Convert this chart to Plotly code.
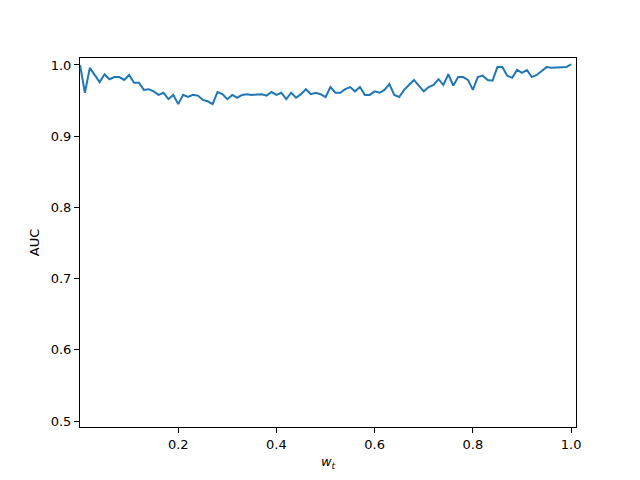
import numpy as np
import plotly.graph_objects as go

w_t = [round(i * 0.01, 2) for i in range(101)]
auc = [1.000, 0.961, 0.996, 0.986, 0.976, 0.987, 0.980, 0.983, 0.983, 0.979,
       0.986, 0.975, 0.975, 0.965, 0.966, 0.963, 0.958, 0.961, 0.952, 0.958,
       0.945, 0.958, 0.955, 0.958, 0.957, 0.951, 0.949, 0.945, 0.962, 0.959,
       0.952, 0.958, 0.954, 0.958, 0.959, 0.958, 0.958, 0.959, 0.957, 0.962,
       0.958, 0.961, 0.952, 0.961, 0.954, 0.959, 0.966, 0.959, 0.961, 0.959,
       0.955, 0.969, 0.961, 0.961, 0.966, 0.969, 0.963, 0.969, 0.958, 0.958,
       0.963, 0.961, 0.965, 0.973, 0.958, 0.955, 0.965, 0.972, 0.979, 0.971,
       0.963, 0.969, 0.972, 0.980, 0.972, 0.987, 0.971, 0.983, 0.983, 0.979,
       0.965, 0.983, 0.985, 0.979, 0.978, 0.997, 0.997, 0.985, 0.982, 0.993,
       0.989, 0.993, 0.983, 0.986, 0.992, 0.997, 0.996, 0.996, 0.996, 0.997,
       1.001]

x_ticks = [0.2, 0.4, 0.6, 0.8, 1.0]
y_ticks = [0.5, 0.6, 0.7, 0.8, 0.9, 1.0]

fig = go.Figure()
fig.add_trace(go.Scatter(x=w_t, y=auc, mode="lines",
                         line=dict(color="#1f77b4", width=2)))

axis_common = dict(showgrid=False, zeroline=False, showline=True, linecolor="black",
                   linewidth=1, mirror=True, ticks="outside", ticklen=5, tickwidth=1,
                   tickcolor="black", tickfont=dict(size=13, color="black"),
                   automargin=False)

fig.update_layout(
    width=632, height=472,
    margin=dict(l=72, r=64, t=50, b=53),
    paper_bgcolor="white", plot_bgcolor="white",
    font=dict(family="DejaVu Sans", size=13, color="black"),
    showlegend=False,
    xaxis=dict(range=[0, 1.01], tickvals=x_ticks, ticktext=[f"{v:.1f}" for v in x_ticks],
               title=dict(text="<i>w</i><sub><i>t</i></sub>", standoff=6, font=dict(size=13)),
               **axis_common),
    yaxis=dict(range=[0.4916, 1.0098], tickvals=y_ticks, ticktext=[f"{v:.1f}" for v in y_ticks],
               title=dict(text="AUC", standoff=8, font=dict(size=13)),
               **axis_common),
)

fig.write_html("out.html")
